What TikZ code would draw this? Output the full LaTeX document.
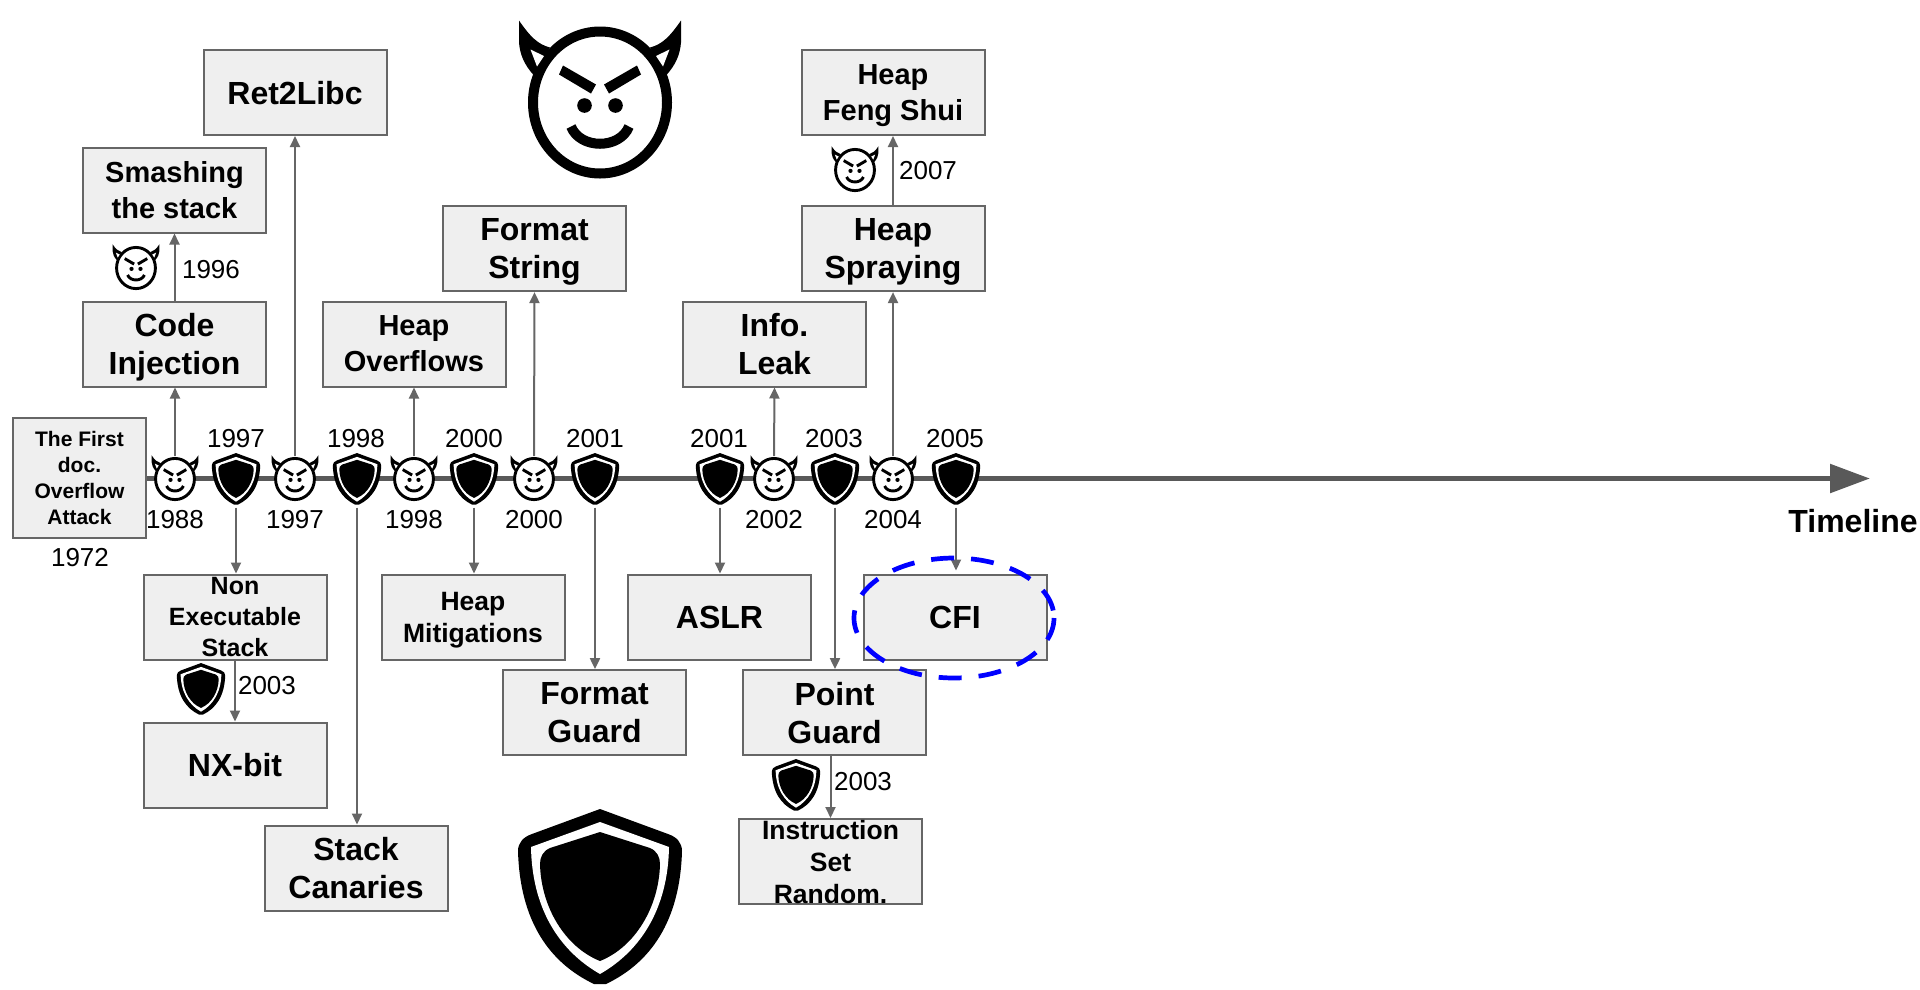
\documentclass[tikz,border=0pt]{standalone}
\usepackage{fontspec}
\setmainfont{Liberation Sans}
\usetikzlibrary{arrows.meta}
\definecolor{boxfill}{HTML}{EFEFEF}
\definecolor{lineg}{HTML}{666666}
\definecolor{tlg}{HTML}{595959}
\newcommand{\fsz}[2]{\fontsize{#1}{#2}\selectfont}
\tikzset{
  x=1pt,y=-1pt,
  pics/devil/.style={code={
    \begin{scope}[scale=#1]
      \foreach \m in {1,-1}{
        \begin{scope}[xscale=\m]
          \fill[black] (-81,-82) .. controls (-70,-66) and (-62,-58) .. (-50,-55) -- (-66,-27) .. controls (-76,-38) and (-80,-48) .. (-81,-60) -- cycle;
        \end{scope}
      }
      \draw[black,fill=white,line width=#1*10pt] (0,0) ellipse[x radius=67,y radius=71];
      \foreach \m in {1,-1}{
        \begin{scope}[xscale=\m]
          \fill[white] (-69.5,-53) -- (-56,-46.5) -- (-63,-36) -- cycle;
          \fill[black] (-37,-37) -- (-4,-18) -- (-9,-9) -- (-41,-28) -- cycle;
          \fill[black] (-15.5,3) circle[radius=7.3];
        \end{scope}
      }
      \draw[black,line width=#1*10pt] (-29,24) .. controls (-20,47) and (20,47) .. (29,24);
    \end{scope}
  }},
  pics/shield/.style={code={
    \begin{scope}[scale=#1]
      \fill[black] (0,-88) -- (68,-63) .. controls (77,-60) and (82,-54) .. (82,-46) .. controls (80,25) and (50,66) .. (6,87) -- (-6,87) .. controls (-50,66) and (-80,25) .. (-82,-46) .. controls (-82,-54) and (-77,-60) .. (-68,-63) -- cycle;
      \fill[white] (0,-75) -- (69,-50) .. controls (68,10) and (42,53) .. (0,77) .. controls (-42,53) and (-68,10) .. (-69,-50) -- cycle;
      \fill[black] (0,-65) -- (50,-49) .. controls (57,-46) and (60,-40) .. (60,-33) .. controls (59,10) and (35,50) .. (0,64) .. controls (-35,50) and (-59,10) .. (-60,-33) .. controls (-60,-40) and (-57,-46) .. (-50,-49) -- cycle;
    \end{scope}
  }},
  evbox/.style={draw=lineg,fill=boxfill,line width=2pt,minimum width=183pt,minimum height=85pt,inner sep=0pt,align=center,text depth=-2pt,font=\bfseries\fsz{32}{38}},
  midtext/.style={font=\bfseries\fsz{29}{36}},
  smalltext/.style={font=\bfseries\fsz{25}{31}},
  devilslot/.style={minimum width=44pt,minimum height=46pt,inner sep=0pt},
  shieldslot/.style={minimum width=46pt,minimum height=57pt,inner sep=0pt},
  conn/.style={draw=lineg,line width=2pt,-{Triangle[length=11pt,width=10pt]}},
  year/.style={inner sep=0pt,font=\fsz{26}{30}},
}
\begin{document}
\begin{tikzpicture}
\useasboundingbox (0,0) rectangle (1920,989);
% timeline
\coordinate (tlstart) at (146,478.5);
\coordinate (tlend) at (1870,478.5);
\draw[tlg,line width=5.5pt,-{Triangle[length=40pt,width=28pt]}] (tlstart) -- (tlend);
% boxes
\node[evbox] (ret) at (295,92.5) {Ret2Libc};
\node[evbox,midtext] (smash) at (174.5,190) {Smashing\\the stack};
\node[evbox] (code) at (174.5,344) {Code\\Injection};
\node[evbox,midtext] (hover) at (414,344) {Heap\\Overflows};
\node[evbox] (fstr) at (534.5,248.6) {Format\\String};
\node[evbox] (info) at (774.5,344) {Info.\\Leak};
\node[evbox,midtext] (feng) at (893,92.5) {Heap\\Feng Shui};
\node[evbox] (spray) at (893,248.6) {Heap\\Spraying};
\node[evbox,smalltext] (nonex) at (235,617) {Non\\Executable\\Stack};
\node[evbox,font=\bfseries\fsz{26.5}{32}] (hmit) at (473,617) {Heap\\Mitigations};
\node[evbox] (aslr) at (719.5,617) {ASLR};
\node[evbox] (cfi) at (955,617) {CFI};
\node[evbox] (fguard) at (594.5,712.6) {Format\\Guard};
\node[evbox] (pguard) at (834.5,712.6) {Point\\Guard};
\node[evbox] (nx) at (235,765) {NX-bit};
\node[evbox,font=\bfseries\fsz{26.5}{32}] (instr) at (830.5,861.5) {Instruction\\Set\\Random.};
\node[evbox] (canary) at (356,868) {Stack\\Canaries};
\node[evbox,minimum width=133pt,minimum height=120pt,font=\bfseries\fsz{21}{26}] (first) at (79.5,478) {The First\\doc.\\Overflow\\Attack};
% icon slots
\foreach \n/\x in {da/175,db/295,dc/414,dd/534,de/774,df/893}
  \node[devilslot] (\n) at (\x,479) {};
\foreach \n/\x in {sa/236,sb/357,sc/474,sd/595,se/720,sf/835,sg/956}
  \node[shieldslot] (\n) at (\x,479) {};
% connectors
\draw[conn] (da.north) -- (da.north |- code.south);
\draw[conn] (code.north) -- (smash.south);
\draw[conn] (db.north) -- (ret.south);
\draw[conn] (dc.north) -- (hover.south);
\draw[conn] (dd.north) -- (fstr.south);
\draw[conn] (de.north) -- (info.south);
\draw[conn] (df.north) -- (spray.south);
\draw[conn] (spray.north) -- (feng.south);
\draw[conn] (sa.south) -- (sa.south |- nonex.north);
\draw[conn] (nonex.south) -- (nx.north);
\draw[conn] (sb.south) -- (sb.south |- canary.north);
\draw[conn] (sc.south) -- (sc.south |- hmit.north);
\draw[conn] (sd.south) -- (sd.south |- fguard.north);
\draw[conn] (se.south) -- (se.south |- aslr.north);
\draw[conn] (sf.south) -- (sf.south |- pguard.north);
\draw[conn] (instr.north |- pguard.south) -- (instr.north);
\draw[conn,shorten >=3pt] (sg.south) -- (sg.south |- cfi.north);
% icons
\foreach \n in {da,db,dc,dd,de,df} \pic at (\n) {devil=0.29};
\foreach \n in {sa,sb,sc,sd,se,sf,sg} \pic at (\n) {shield=0.295};
\pic at (136,268) {devil=0.29};
\pic at (855,170) {devil=0.29};
\pic at (201,689) {shield=0.295};
\pic at (796,785) {shield=0.295};
\pic at (600,102.5) {devil=1};
\pic at (600,897) {shield=1};
% ellipse
\draw[blue,line width=4.7pt,dash pattern=on 23pt off 17pt] (954,618) ellipse[x radius=100,y radius=60];
% year labels
\node[year] (y1) at (175,519.5) {1988};
\node[year] (y2) at (236,439) {1997};
\node[year] (y3) at (295,519.5) {1997};
\node[year] (y4) at (356,439) {1998};
\node[year] (y5) at (414,519.5) {1998};
\node[year] (y6) at (474,439) {2000};
\node[year] (y7) at (534,519.5) {2000};
\node[year] (y8) at (595,439) {2001};
\node[year] (y9) at (719,439) {2001};
\node[year] (y10) at (774,519.5) {2002};
\node[year] (y11) at (834,439) {2003};
\node[year] (y12) at (893,519.5) {2004};
\node[year] (y13) at (955,439) {2005};
\node[year] (y14) at (80,557.5) {1972};
\node[year] (y15) at (211,269.5) {1996};
\node[year] (y16) at (267,685.5) {2003};
\node[year] (y17) at (863,781.5) {2003};
\node[year] (y18) at (928,170.5) {2007};
\node[inner sep=0pt,font=\bfseries\fsz{32}{37}] (tl) at (1853,521.5) {Timeline};
\end{tikzpicture}
\end{document}
